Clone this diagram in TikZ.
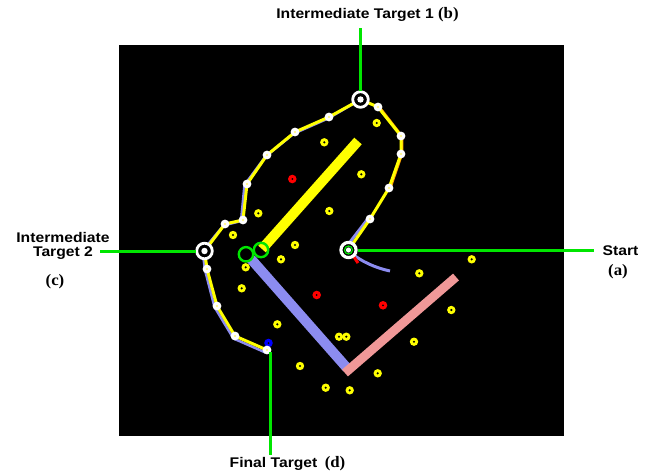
\documentclass[tikz,border=0pt]{standalone}
\usepackage{fontspec}
\setmainfont{Liberation Sans}[FakeStretch=1.12]
\newfontfamily\serifpar{Liberation Serif}[FakeStretch=1.05]
\newcommand\parlbl[1]{{\serifpar\fontsize{16}{16}\selectfont #1}}
\definecolor{glime}{RGB}{0,230,0}
\definecolor{peri}{RGB}{140,140,240}
\definecolor{pinkbar}{RGB}{240,152,152}
\definecolor{ylw}{RGB}{255,255,0}
\begin{document}
\begin{tikzpicture}[x=1pt,y=-1pt,
  lbl/.style={font=\fontsize{14}{15}\selectfont\bfseries, inner sep=0pt, align=center},
  gline/.style={draw=glime, line width=3pt},
  bar/.style={line width=#1, line cap=butt},
  route/.style={draw=ylw, line width=3pt, line join=round},
  shadowpath/.style={draw=peri, line width=2.5pt, line join=round},
]
\fill[white] (0,0) rectangle (662,474);
\useasboundingbox (0,0) rectangle (662,474);
\fill[black] (119,45) rectangle (564,436);

% obstacle bars
\draw[bar=10pt, draw=peri] (251,259) -- (347,368);
\draw[bar=9pt, draw=pinkbar] (345,373) -- (456,277);
\draw[bar=10pt, draw=ylw] (262,249) -- (358,141);

% route coordinates
\coordinate (a) at (348.5,250);
\coordinate (q1) at (370,219);
\coordinate (q2) at (389,188);
\coordinate (q3) at (401,154);
\coordinate (q4) at (401,136);
\coordinate (q5) at (378,107);
\coordinate (b) at (360.5,99.5);
\coordinate (q6) at (329,117);
\coordinate (q7) at (295,132);
\coordinate (q8) at (267,155);
\coordinate (q9) at (247,184);
\coordinate (q10) at (243,220);
\coordinate (q11) at (225,224);
\coordinate (c) at (204.5,251);
\coordinate (q12) at (207,269);
\coordinate (q13) at (217,306);
\coordinate (q14) at (235,336);
\coordinate (d) at (267,350);

% shadow traces
\draw[shadowpath] ([shift={(-1.5,1)}]b) -- ([shift={(-1,1.5)}]q6) -- ([shift={(-1,1.5)}]q7) -- ([shift={(-1.5,1.5)}]q8)
  -- ([shift={(-2.5,1)}]q9) -- ([shift={(-2,1)}]q10) -- ([shift={(-1.5,1.5)}]q11) -- ([shift={(-2,0)}]c)
  -- ([shift={(-2,1)}]q12) -- ([shift={(-2.5,1)}]q13) -- ([shift={(-1.5,2.5)}]q14) -- ([shift={(-1.5,2.5)}]d);
\draw[draw=orange!80!yellow, line width=1.5pt] ([shift={(1.5,-0.5)}]q5) -- ([shift={(1.5,0)}]q4) -- ([shift={(1.5,0)}]q3) -- ([shift={(1.5,1)}]q2);
\draw[shadowpath, line width=3pt] ([shift={(1,2)}]a) .. controls (362,262) and (376,268) .. (390,271);
\draw[shadowpath, line width=3pt] ([shift={(0,-6)}]a) -- ([shift={(-3,1)}]q1);
\draw[draw=red, line width=3pt] (352,254) -- (358,263);

% yellow route
\draw[route] (a) -- (q1) -- (q2) -- (q3) -- (q4) -- (q5) -- (b) -- (q6) -- (q7) -- (q8) -- (q9)
  -- (q10) -- (q11) -- (c) -- (q12) -- (q13) -- (q14) -- (d);

% yellow dots
\foreach \p in {(376.7,123),(324.3,142.3),(361.3,174.3),(329.3,211),(258.3,213.3),(233,235),
  (295,245),(281,259.3),(245.7,267.3),(241.7,288.3),(277.3,324.3),(339,336.7),(346.3,336.7),
  (414,341.7),(300,366),(377.7,373.3),(325.7,387.7),(349.7,390.3),(471.7,259.3),(419.3,273.3),(451.3,310)}
{\fill[ylw] \p circle (4.2); \fill[black] \p circle (1.2);}

% red dots
\foreach \p in {(292.3,179),(316.7,295),(383,305.3)}
{\fill[red] \p circle (4.3); \fill[black] \p circle (1);}

% blue final marker
\fill[blue] (268.5,343) circle (4.3);
\fill[black] (268.5,343) circle (1);

% white waypoint dots
\foreach \p in {q1,q2,q3,q4,q5,q6,q7,q8,q9,q10,q11,q12,q13,q14,d}
{\fill[white] (\p) circle (4.4); \fill[yellow!55] (\p) circle (1.1);}

% target markers
\foreach \p in {b,c}
{\fill[black] (\p) circle (7); \draw[white, line width=2.8pt] (\p) circle (7.8); \fill[white] (\p) circle (3.2);}
\fill[black] (a) circle (7);
\draw[white, line width=3.2pt] (a) circle (7.6);
\draw[glime, line width=1.2pt] (a) circle (4);
\fill[white] (a) circle (2.6);

% green rings at bar joint
\draw[glime, line width=2.4pt] (246,254.3) circle (7.2);
\draw[glime, line width=2.4pt] (261,250) circle (7.2);

% labels
\node[lbl] (lb) at (367.5,15) {Intermediate Target 1 \parlbl{(b)}};
\node[lbl] (lc) at (63,245.5) {Intermediate\\[-1pt]Target 2};
\node[lbl] (lc2) at (55,282) {\parlbl{(c)}};
\node[lbl] (la) at (620.5,251) {Start};
\node[lbl] (la2) at (618,272) {\parlbl{(a)}};
\node[lbl] (ld) at (287.5,464) {Final Target\hspace{3pt} \parlbl{(d)}};

% leader lines
\coordinate (bt) at (360.5,28);
\coordinate (ce) at (100,251);
\coordinate (ae) at (594,250);
\coordinate (dt) at (270.5,352);
\coordinate (de) at (270.5,455);
\draw[gline, shorten >=9pt] (bt) -- (b);
\draw[gline, shorten >=9pt] (ce) -- (c);
\draw[gline, shorten <=9pt] (a) -- (ae);
\draw[gline] (dt) -- (de);
\end{tikzpicture}
\end{document}
